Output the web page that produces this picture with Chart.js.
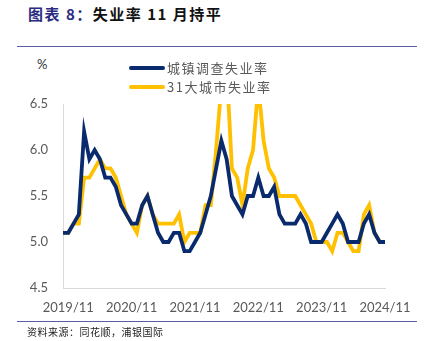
<!DOCTYPE html>
<html>
<head>
<meta charset="utf-8">
<script src="https://cdn.jsdelivr.net/npm/chart.js@4.4.1/dist/chart.umd.min.js"></script>
<style>
  html, body { margin: 0; padding: 0; background: #fff; }
  .wrap { position: relative; width: 425px; height: 341px; overflow: hidden; font-family: "Noto Sans CJK SC", sans-serif; }
  .title { position: absolute; left: 28px; top: 3px; font-size: 15px; font-weight: bold; color: #111; white-space: nowrap; letter-spacing: 1.5px; }
  .title .tag { color: #2b2b80; }
  .rule { position: absolute; left: 17px; width: 400px; height: 1px; background: #5c5ca3; }
  .source { position: absolute; left: 27px; top: 324px; font-size: 10px; color: #222; white-space: nowrap; letter-spacing: 0.5px; }
  .unit { position: absolute; left: 37px; top: 56px; font-size: 13px; color: #333; font-family: Lato, sans-serif; }
  canvas { position: absolute; left: 0; top: 0; }
</style>
</head>
<body>
<div class="wrap">
  <div class="title"><span class="tag">图表 8：</span>失业率 11 月持平</div>
  <div class="rule" style="top:46px"></div>
  <div class="unit">%</div>
  <canvas id="chart" width="425" height="341"></canvas>
  <div class="rule" style="top:321px"></div>
  <div class="source">资料来源：同花顺，浦银国际</div>
</div>
<script>
// months 2019/10 .. 2024/11
var months = [];
for (var y = 2019; y <= 2024; y++) {
  for (var m = 1; m <= 12; m++) {
    if (y === 2019 && m < 10) continue;
    if (y === 2024 && m > 11) continue;
    months.push(y + '/' + m);
  }
}

var urbanRate = [
  5.1, 5.1, 5.2,
  5.3, 6.2, 5.9, 6.0, 5.9, 5.7, 5.7, 5.6, 5.4, 5.3, 5.2, 5.2,
  5.4, 5.5, 5.3, 5.1, 5.0, 5.0, 5.1, 5.1, 4.9, 4.9, 5.0, 5.1,
  5.3, 5.5, 5.8, 6.1, 5.9, 5.5, 5.4, 5.3, 5.5, 5.5, 5.7, 5.5,
  5.5, 5.6, 5.3, 5.2, 5.2, 5.2, 5.3, 5.2, 5.0, 5.0, 5.0, 5.1,
  5.2, 5.3, 5.2, 5.0, 5.0, 5.0, 5.2, 5.3, 5.1, 5.0, 5.0
];

var cityRate = [
  5.1, 5.1, 5.2,
  5.2, 5.7, 5.7, 5.8, 5.9, 5.8, 5.8, 5.7, 5.5, 5.3, 5.2, 5.1,
  5.4, 5.5, 5.3, 5.2, 5.2, 5.2, 5.2, 5.3, 5.0, 5.1, 5.1, 5.1,
  5.4, 5.4, 6.0, 6.7, 6.9, 5.8, 5.7, 5.4, 5.8, 6.0, 6.7, 6.1,
  5.8, 5.7, 5.5, 5.5, 5.5, 5.5, 5.4, 5.3, 5.2, 5.0, 5.0, 5.0,
  4.9, 5.1, 5.1, 5.0, 4.9, 4.9, 5.3, 5.4, 5.1, 5.0, 5.0
];

var seriesNames = ['城镇调查失业率', '31大城市失业率'];
var yTicks = [4.5, 5.0, 5.5, 6.0, 6.5];

var legendBox = {
  id: 'legendBox',
  afterDraw: function(chart) {
    var ctx = chart.ctx;
    ctx.save();
    ctx.font = '13px "Noto Sans CJK SC", sans-serif';
    ctx.letterSpacing = '1.5px';
    ctx.textBaseline = 'middle';
    chart.data.datasets.forEach(function(ds, i) {
      var yy = 68 + i * 19;
      ctx.strokeStyle = ds.borderColor;
      ctx.lineWidth = 4;
      ctx.lineCap = 'round';
      ctx.beginPath();
      ctx.moveTo(131, yy);
      ctx.lineTo(163, yy);
      ctx.stroke();
      ctx.fillStyle = '#595959';
      ctx.fillText(ds.label, 167, yy);
    });
    ctx.restore();
  }
};

new Chart(document.getElementById('chart'), {
  type: 'line',
  data: {
    labels: months,
    datasets: [
      { label: seriesNames[0], data: urbanRate, borderColor: '#0a2a6e', borderWidth: 3.8, pointRadius: 0, tension: 0, clip: { left: 4, right: 4, top: 0, bottom: 0 } },
      { label: seriesNames[1], data: cityRate, borderColor: '#ffc000', borderWidth: 3.8, pointRadius: 0, tension: 0, clip: { left: 4, right: 4, top: 0, bottom: 0 } }
    ]
  },
  options: {
    responsive: false,
    animation: false,
    layout: { padding: { top: 104, right: 40, left: 0, bottom: 0 } },
    plugins: { legend: { display: false }, tooltip: { enabled: false } },
    scales: {
      x: {
        offset: false,
        grid: { display: false, drawTicks: false },
        border: { color: '#d9d9d9', width: 1 },
        ticks: {
          autoSkip: false, maxRotation: 0, padding: 12,
          color: '#595959', font: { family: 'Lato, sans-serif', size: 13 },
          callback: function(v, i) {
            var lab = months[i];
            return lab.split('/')[1] === '11' ? lab.split('/')[0] + '/11' : null;
          }
        },
        afterFit: function(s) { s.height = 53; }
      },
      y: {
        min: 4.5, max: 6.5,
        grid: { display: false, drawTicks: false },
        border: { color: '#d9d9d9', width: 1 },
        afterBuildTicks: function(s) { s.ticks = yTicks.map(function(v) { return { value: v }; }); },
        ticks: {
          padding: 15, color: '#595959', font: { family: 'Lato, sans-serif', size: 13 },
          callback: function(v) { return v.toFixed(1); }
        },
        afterFit: function(s) { s.width = 63; }
      }
    }
  },
  plugins: [legendBox]
});
</script>
</body>
</html>
